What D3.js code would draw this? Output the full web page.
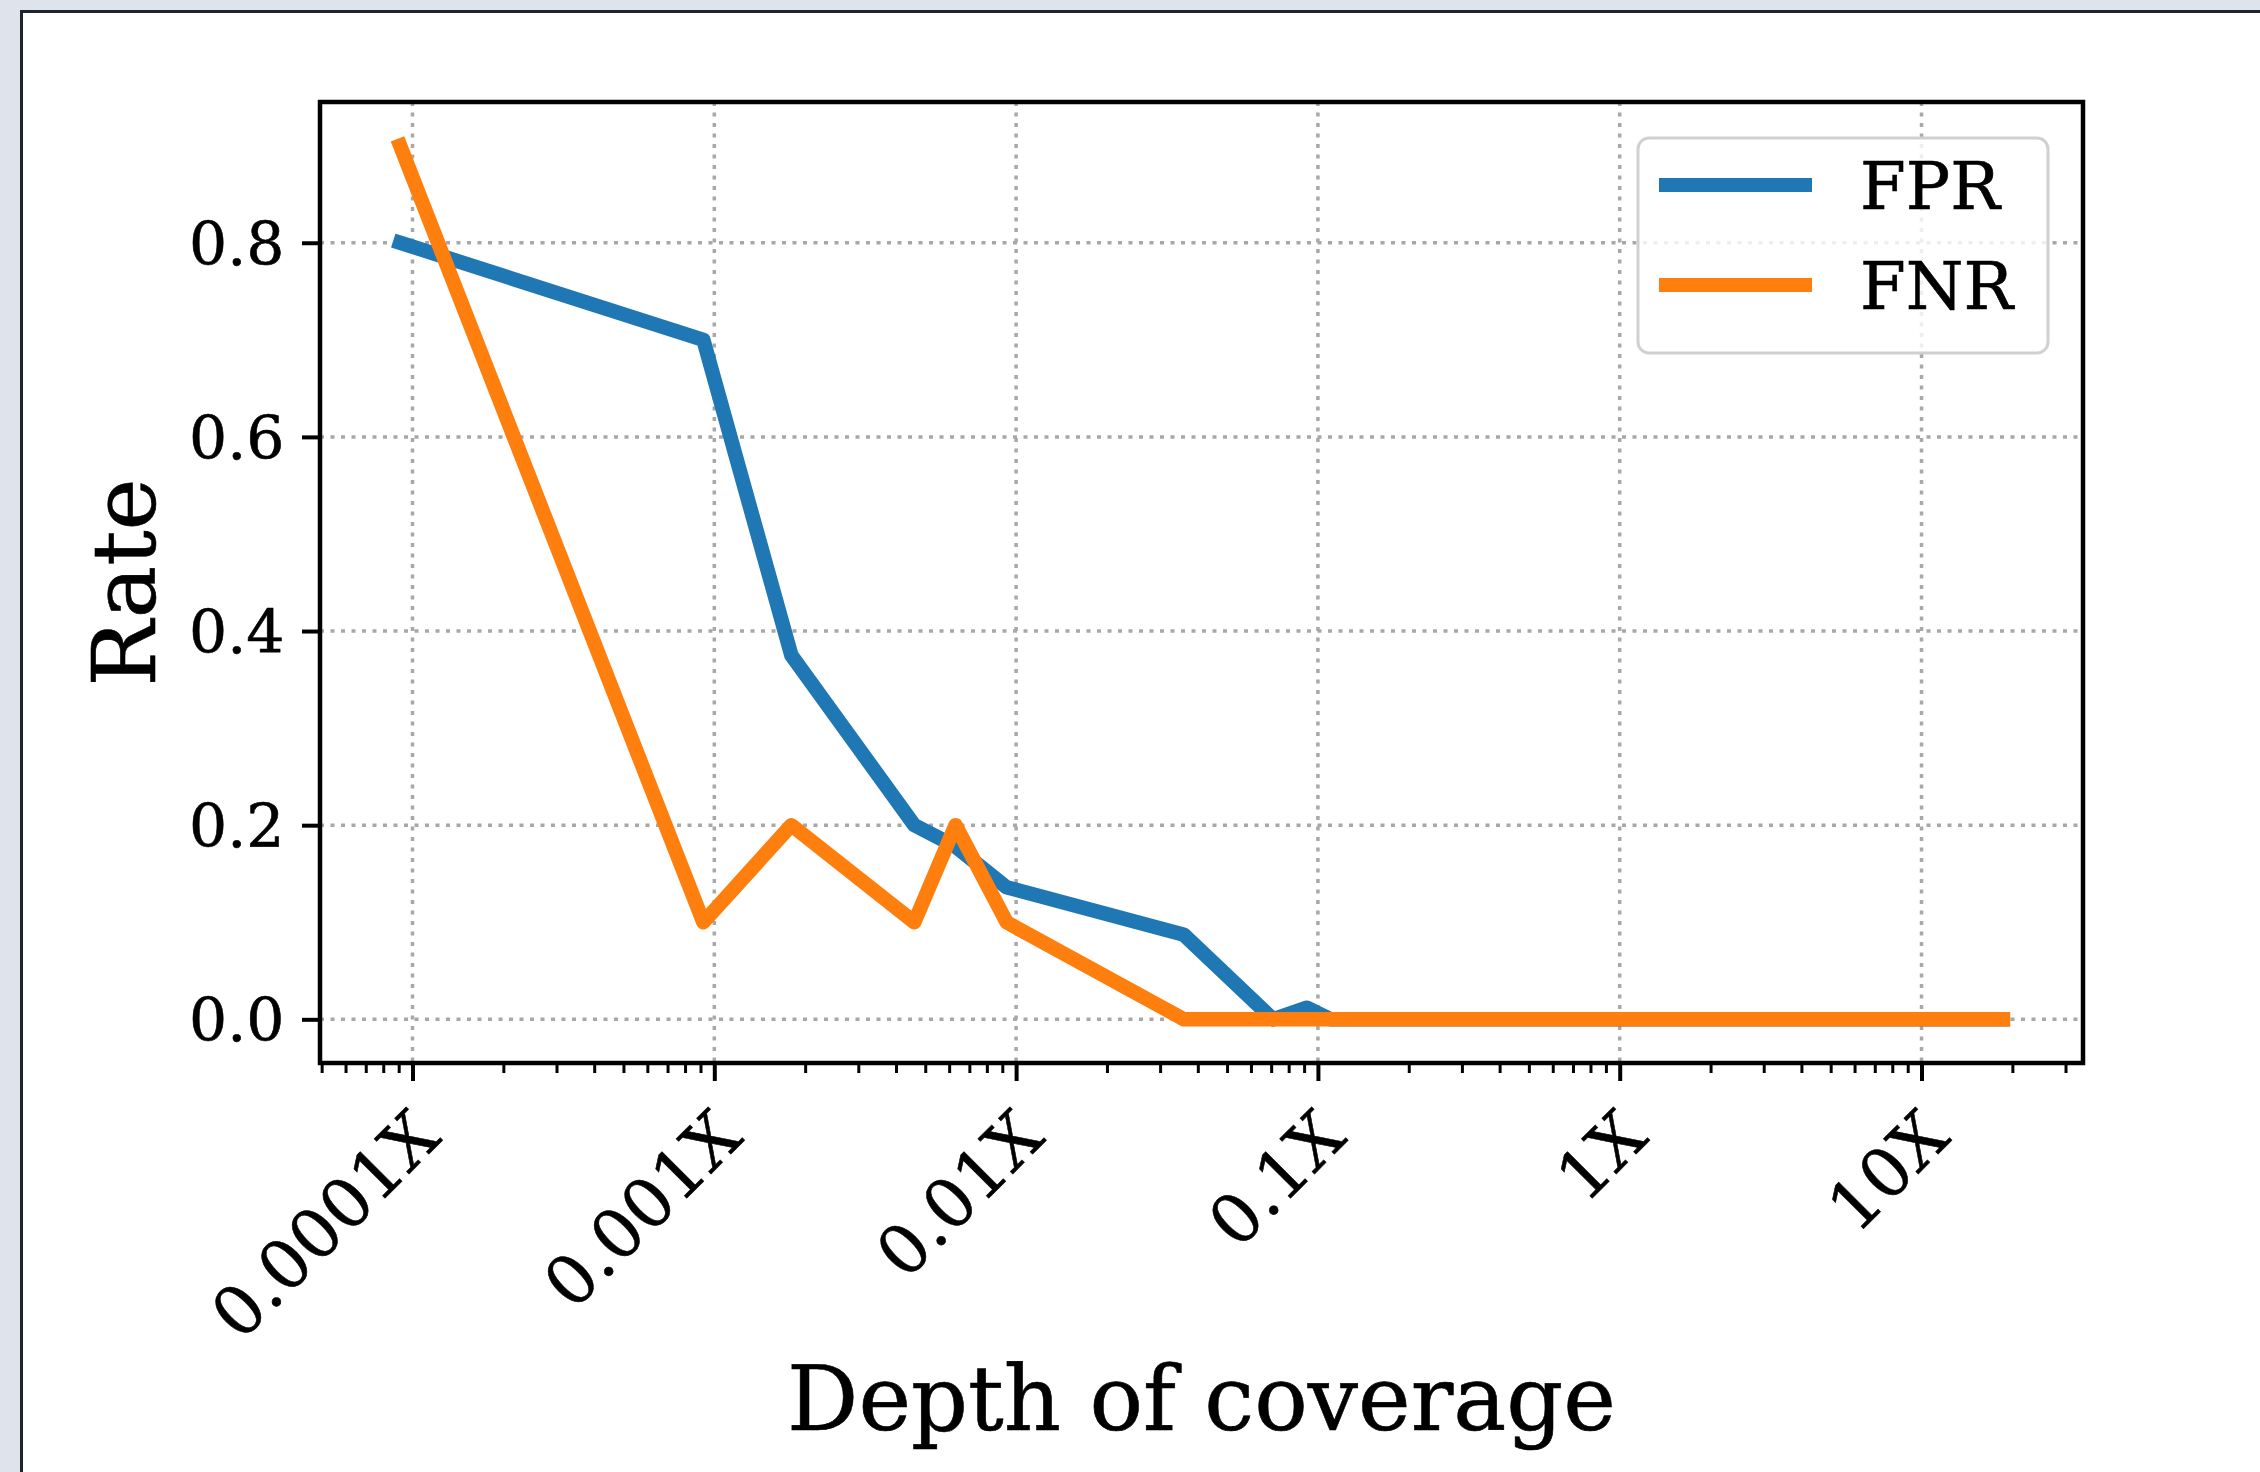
<!DOCTYPE html>
<html>
<head>
<meta charset="utf-8">
<script src="https://d3js.org/d3.v7.min.js"></script>
<style>
body { margin: 0; background: #dfe3ec; }
svg { display: block; }
svg text { stroke: black; stroke-width: 0.6px; }
</style>
</head>
<body>
<script>
// values
var depths = [0.000091, 0.00092, 0.0018, 0.0046, 0.0063, 0.0093, 0.036, 0.071, 0.092, 0.11, 18.6];
var fpr = [0.8, 0.70, 0.375, 0.2, 0.178, 0.136, 0.087, 0.0, 0.012, 0.0, 0.0];
var fnr = [0.9, 0.1, 0.2, 0.1, 0.2, 0.1, 0.0, 0.0, 0.0, 0.0, 0.0];
var seriesNames = ["FPR", "FNR"];
var seriesColors = ["#1f77b4", "#ff7f0e"];
var xTickValues = [0.0001, 0.001, 0.01, 0.1, 1, 10];
var xTickLabels = ["0.0001X", "0.001X", "0.01X", "0.1X", "1X", "10X"];
var yTickValues = [0, 0.2, 0.4, 0.6, 0.8];

var W = 2260, H = 1472;
var plot = {left: 320, right: 2083, top: 102, bottom: 1063};
var font = "DejaVu Serif";

var svg = d3.select("body")
  .append("svg")
  .attr("width", W)
  .attr("height", H);

// page frame around the figure
svg.append("rect").attr("width", W).attr("height", H).attr("fill", "#dfe3ec");
svg.append("rect").attr("x", 20).attr("y", 10).attr("width", W - 20).attr("height", H - 10).attr("fill", "white");
svg.append("path")
  .attr("d", "M21.5," + H + "V11.5H" + W)
  .attr("fill", "none")
  .attr("stroke", "#1d2430")
  .attr("stroke-width", 3);

// log x with 5% margins like matplotlib
var lo = d3.min(depths), hi = d3.max(depths);
var pad = Math.pow(hi / lo, 0.05);
var x = d3.scaleLog()
  .domain([lo / pad, hi * pad])
  .range([plot.left, plot.right]);

var yMax = d3.max(fpr.concat(fnr));
var y = d3.scaleLinear()
  .domain([-yMax * 0.05, yMax * 1.05])
  .range([plot.bottom, plot.top]);

// grid
var grid = svg.append("g")
  .attr("stroke", "#a8a8a8")
  .attr("stroke-width", 3.5)
  .attr("stroke-dasharray", "4,6.5");
grid.selectAll("gx")
  .data(xTickValues)
  .enter()
  .append("line")
    .attr("x1", function(d){ return x(d) })
    .attr("x2", function(d){ return x(d) })
    .attr("y1", plot.top)
    .attr("y2", plot.bottom);
grid.selectAll("gy")
  .data(yTickValues)
  .enter()
  .append("line")
    .attr("x1", plot.left)
    .attr("x2", plot.right)
    .attr("y1", function(d){ return y(d) })
    .attr("y2", function(d){ return y(d) });

// minor ticks 2..9 in each decade
var minor = [];
for (var e = -6; e <= 3; e++) {
  for (var k = 2; k <= 9; k++) {
    var v = k * Math.pow(10, e);
    if (v >= x.domain()[0] && v <= x.domain()[1]) minor.push(v);
  }
}

var xMinor = svg.append("g")
  .attr("transform", "translate(0," + plot.bottom + ")")
  .call(d3.axisBottom(x).tickValues(minor).tickSize(10).tickFormat(""));
xMinor.select(".domain").remove();
xMinor.selectAll("line").attr("stroke-width", 3);

var xAxis = svg.append("g")
  .attr("transform", "translate(0," + plot.bottom + ")")
  .call(d3.axisBottom(x).tickValues(xTickValues).tickSize(18)
    .tickFormat(function(d, i){ return xTickLabels[i] }));
xAxis.select(".domain").remove();
xAxis.attr("font-family", font).attr("font-size", 68);
xAxis.selectAll("line").attr("stroke-width", 4);
xAxis.selectAll("text")
  .attr("x", 0)
  .attr("y", 0)
  .attr("dy", "0.73em")
  .attr("fill", "black")
  .style("text-anchor", "end")
  .attr("transform", "translate(-5,42)rotate(-45)");

var yAxis = svg.append("g")
  .attr("transform", "translate(" + plot.left + ",0)")
  .call(d3.axisLeft(y).tickValues(yTickValues).tickSize(18).tickPadding(17.5)
    .tickFormat(d3.format(".1f")));
yAxis.select(".domain").remove();
yAxis.attr("font-family", font).attr("font-size", 60);
yAxis.selectAll("line").attr("stroke-width", 4);
yAxis.selectAll("text").attr("dy", "0.36em").attr("fill", "black");

// the two rate lines
var line = d3.line()
  .x(function(d){ return x(d[0]) })
  .y(function(d){ return y(d[1]) });

[fpr, fnr].forEach(function(vals, i) {
  svg.append("path")
    .datum(depths.map(function(d, j){ return [d, vals[j]] }))
    .attr("d", line)
    .attr("fill", "none")
    .attr("stroke", seriesColors[i])
    .attr("stroke-width", 14.5)
    .attr("stroke-linecap", "square")
    .attr("stroke-linejoin", "round");
});

// axes frame
svg.append("rect")
  .attr("x", plot.left)
  .attr("y", plot.top)
  .attr("width", plot.right - plot.left)
  .attr("height", plot.bottom - plot.top)
  .attr("fill", "none")
  .attr("stroke", "black")
  .attr("stroke-width", 4.5);

// axis titles
svg.append("text")
  .attr("transform", "translate(155," + ((plot.top + plot.bottom) / 2) + ")rotate(-90)")
  .attr("text-anchor", "middle")
  .attr("font-family", font)
  .attr("font-size", 88)
  .text("Rate");

svg.append("text")
  .attr("x", (plot.left + plot.right) / 2)
  .attr("y", 1430)
  .attr("text-anchor", "middle")
  .attr("font-family", font)
  .attr("font-size", 89)
  .text("Depth of coverage");

// legend
var legend = svg.append("g");
legend.append("rect")
  .attr("x", 1638)
  .attr("y", 138)
  .attr("width", 410)
  .attr("height", 215)
  .attr("rx", 11)
  .attr("fill", "white")
  .attr("fill-opacity", 0.8)
  .attr("stroke", "#d0d0d0")
  .attr("stroke-width", 3);

var items = legend.selectAll("items")
  .data(seriesNames)
  .enter()
  .append("g")
  .attr("transform", function(d, i){ return "translate(0," + (185 + i * 100) + ")" });
items.append("line")
  .attr("x1", 1659)
  .attr("x2", 1812)
  .attr("stroke", function(d, i){ return seriesColors[i] })
  .attr("stroke-width", 14);
items.append("text")
  .attr("x", 1860)
  .attr("dy", "0.36em")
  .attr("font-family", font)
  .attr("font-size", 66)
  .text(function(d){ return d });
</script>
</body>
</html>
